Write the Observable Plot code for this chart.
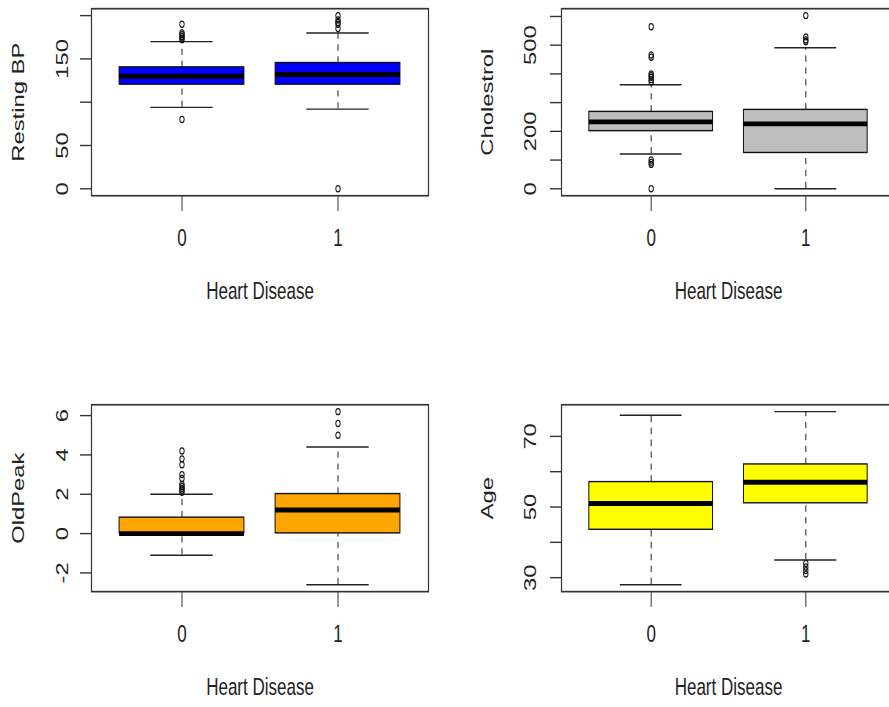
<!DOCTYPE html>
<html><head><meta charset="utf-8">
<script src="https://cdn.jsdelivr.net/npm/d3@7"></script>
<script src="https://cdn.jsdelivr.net/npm/@observablehq/plot@0.6"></script>
<style>
html,body{margin:0;padding:0;background:#fff;overflow:hidden;width:889px;height:707px;}
#stage{position:absolute;left:0;top:0;width:889px;height:505px;transform:scale(1,1.4);transform-origin:0 0;}
.panel{position:absolute;}
</style></head><body><div id="stage"></div>
<script>
// ---- data ----
const groups = ["0", "1"];
const xTitle = "Heart Disease";

// Resting BP
const bpLow = [94, 92];
const bpQ1 = [120, 120];
const bpMed = [130, 132];
const bpQ3 = [140, 145];
const bpHigh = [170, 180];
const bpOut0 = [80, 172, 174, 176, 178, 180, 190];
const bpOut1 = [0, 185, 190, 192, 195, 200];
const bpTicks = [0, 50, 100, 150, 200];
const bpTickLabels = [0, 50, 150];

// Cholestrol
const chLow = [121, 0];
const chQ1 = [200, 124];
const chMed = [233, 226];
const chQ3 = [267, 274];
const chHigh = [362, 491];
const chOut0 = [0, 85, 92, 100, 372, 380, 388, 394, 400, 458, 466, 564];
const chOut1 = [512, 518, 529, 603];
const chTicks = [0, 100, 200, 300, 400, 500, 600];
const chTickLabels = [0, 200, 500];

// OldPeak
const opLow = [-1.1, -2.6];
const opQ1 = [0, 0];
const opMed = [0, 1.2];
const opQ3 = [0.8, 2.0];
const opHigh = [2.0, 4.4];
const opOut0 = [2.1, 2.2, 2.3, 2.4, 2.5, 2.8, 3.0, 3.5, 3.8, 4.2];
const opOut1 = [5.0, 5.6, 6.2];
const opTicks = [-2, 0, 2, 4, 6];
const opTickLabels = [-2, 0, 2, 4, 6];

// Age
const agLow = [28, 35];
const agQ1 = [43.5, 51];
const agMed = [51, 57];
const agQ3 = [57, 62];
const agHigh = [76, 77];
const agOut0 = [];
const agOut1 = [31, 32, 33, 34];
const agTicks = [30, 40, 50, 60, 70];
const agTickLabels = [30, 50, 70];

// ---- drawing ----
const FONT = "'Liberation Sans', Arial, sans-serif";
const stage = document.getElementById("stage");

function panel(o) {
  const stats = groups.map((g, i) => ({pos: i + 1, lo: o.low[i], q1: o.q1[i], med: o.med[i], q3: o.q3[i], hi: o.high[i]}));
  const outs = [...o.out0.map(v => ({pos: 1, v})), ...o.out1.map(v => ({pos: 2, v}))];
  const all = [...o.low, ...o.high, ...o.out0, ...o.out1];
  const mn = Math.min(...all), mx = Math.max(...all), ext = 0.04 * (mx - mn);
  const chart = Plot.plot({
    width: o.width, height: o.height,
    marginLeft: o.ml, marginRight: o.mr, marginTop: o.mt, marginBottom: o.mb,
    x: {type: "linear", domain: [0.42, 2.58]},
    y: {type: "linear", domain: [mn - ext, mx + ext]},
    style: {fontFamily: FONT, fontSize: "17px", color: "#222", background: "transparent", overflow: "visible", maxWidth: "none"},
    marks: [
      Plot.ruleX(stats, {x: "pos", y1: "q3", y2: "hi", stroke: "#222", strokeWidth: 1, strokeDasharray: "4.5,4"}),
      Plot.ruleX(stats, {x: "pos", y1: "lo", y2: "q1", stroke: "#222", strokeWidth: 1, strokeDasharray: "4.5,4"}),
      Plot.ruleY(stats, {y: "hi", x1: d => d.pos - 0.2, x2: d => d.pos + 0.2, stroke: "#222", strokeWidth: 1}),
      Plot.ruleY(stats, {y: "lo", x1: d => d.pos - 0.2, x2: d => d.pos + 0.2, stroke: "#222", strokeWidth: 1}),
      Plot.rect(stats, {x1: d => d.pos - 0.4, x2: d => d.pos + 0.4, y1: "q1", y2: "q3", fill: o.color, stroke: "#111", strokeWidth: 1}),
      Plot.ruleY(stats, {y: "med", x1: d => d.pos - 0.4, x2: d => d.pos + 0.4, stroke: "black", strokeWidth: 3.5}),
      Plot.dot(outs, {x: "pos", y: "v", r: 2.2, stroke: "#111", fill: "none", strokeWidth: 0.9}),
      Plot.frame({stroke: "#333", strokeWidth: 1.2}),
      Plot.axisY({ticks: o.ticks, anchor: "left", tickSize: 11, tickRotate: -90, tickPadding: o.tpy, label: null,
                  tickFormat: d => o.tickLabels.includes(d) ? String(d) : "", stroke: "#333"}),
      Plot.axisX({ticks: [1, 2], anchor: "bottom", tickSize: 11.4, tickPadding: 12.6, label: null,
                  tickFormat: d => groups[d - 1], stroke: "#333"}),
      Plot.text([o.yTitle], {frameAnchor: "left", textAnchor: "middle", text: d => d, rotate: -90, dx: o.ytx, fill: "#222"}),
      Plot.text([xTitle], {frameAnchor: "bottom", textAnchor: "middle", text: d => d, dy: 73.6, fill: "#222"})
    ]
  });
  const div = document.createElement("div");
  div.className = "panel";
  div.style.left = o.left + "px";
  div.style.top = o.top + "px";
  div.style.width = o.width + "px";
  div.style.height = o.height + "px";
  div.appendChild(chart);
  stage.appendChild(div);
}

const L = {left: 0, width: 444, ml: 91, mr: 16, tpy: 13, ytx: -73};
const R = {left: 444, width: 460, ml: 117, mr: 9, tpy: 15, ytx: -74};
const T = {top: 0, height: 250, mt: 5.7, mb: 110.7};
const B = {top: 250, height: 255, mt: 38.6, mb: 82.9};

panel({...L, ...T, low: bpLow, q1: bpQ1, med: bpMed, q3: bpQ3, high: bpHigh, out0: bpOut0, out1: bpOut1,
       ticks: bpTicks, tickLabels: bpTickLabels, color: "#0000FF", yTitle: "Resting BP"});
panel({...R, ...T, low: chLow, q1: chQ1, med: chMed, q3: chQ3, high: chHigh, out0: chOut0, out1: chOut1,
       ticks: chTicks, tickLabels: chTickLabels, color: "#BEBEBE", yTitle: "Cholestrol"});
panel({...L, ...B, low: opLow, q1: opQ1, med: opMed, q3: opQ3, high: opHigh, out0: opOut0, out1: opOut1,
       ticks: opTicks, tickLabels: opTickLabels, color: "#FFA500", yTitle: "OldPeak"});
panel({...R, ...B, low: agLow, q1: agQ1, med: agMed, q3: agQ3, high: agHigh, out0: agOut0, out1: agOut1,
       ticks: agTicks, tickLabels: agTickLabels, color: "#FFFF00", yTitle: "Age"});
</script></body></html>
